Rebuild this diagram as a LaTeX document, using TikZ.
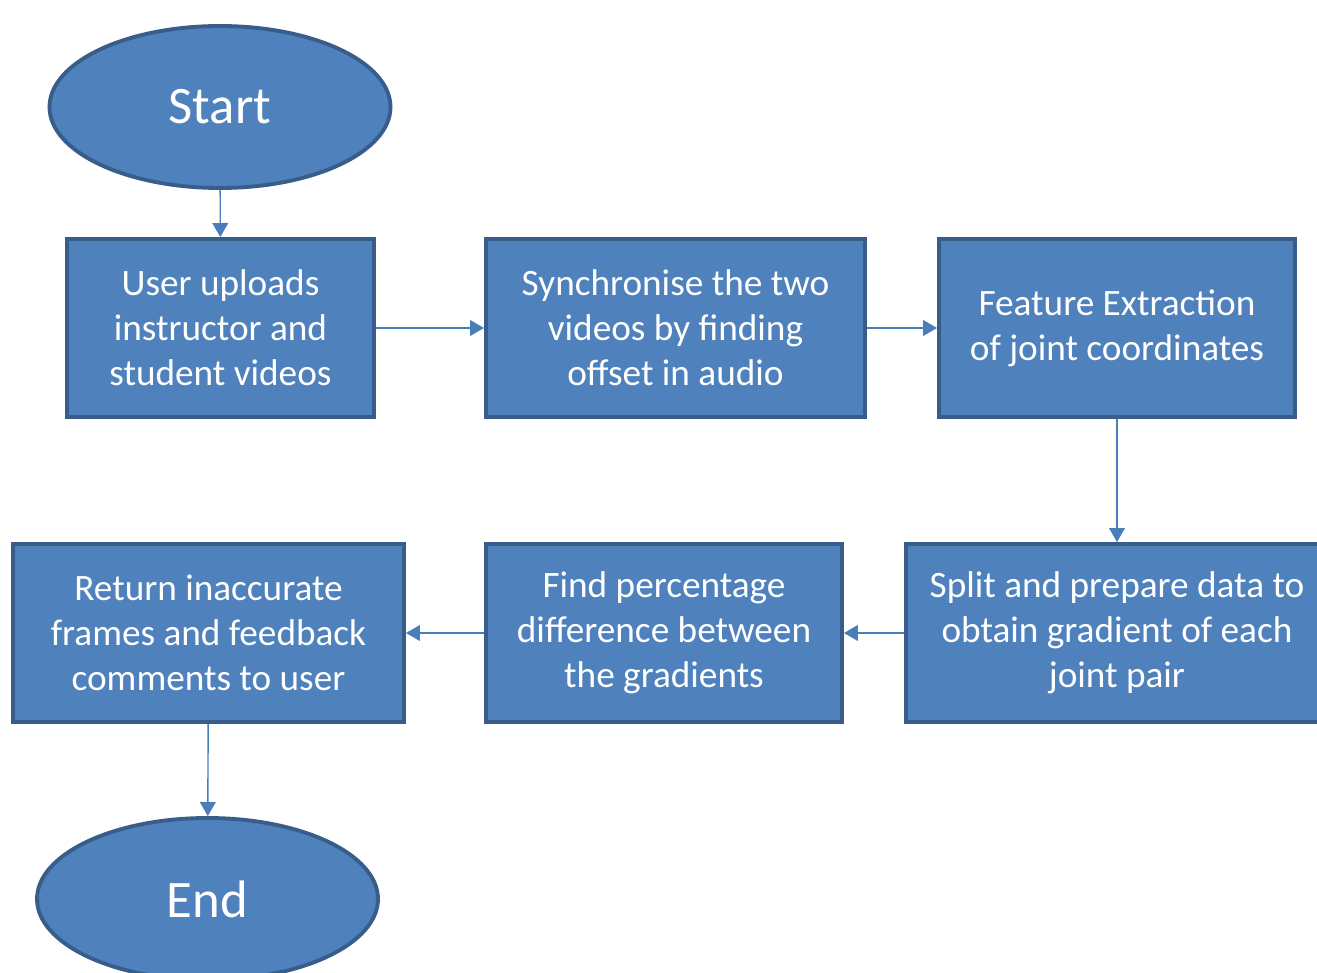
\documentclass[tikz,border=0pt]{standalone}
\usepackage{fontspec}
\setmainfont{Carlito}
\usetikzlibrary{arrows.meta,shapes.geometric}

\definecolor{boxblue}{HTML}{4F81BD}
\definecolor{boxedge}{HTML}{385D8A}
\definecolor{arrblue}{HTML}{4A7EBB}

\begin{document}
\begin{tikzpicture}[
    step box/.style={rectangle, draw=boxedge, fill=boxblue, line width=2.2pt,
      minimum height=3.56cm, text=white, align=center,
      font=\fontsize{21.2}{25.6}\selectfont},
    term/.style={ellipse, draw=boxedge, fill=boxblue, line width=2.2pt,
      minimum width=6.82cm, minimum height=3.24cm, text=white,
      font=\fontsize{30}{36}\selectfont},
    arr/.style={draw=arrblue, line width=0.8pt, -{Triangle[width=9pt,length=8pt]}}
  ]
    \clip (0,0) rectangle (26.34,-19.46);
    \useasboundingbox (0,0) rectangle (26.34,-19.46);

    % terminals
    \node[term] (start) at (4.40,-2.14) {Start};
    \node[term] (finish) at (4.15,-17.98) {End};

    % first row
    \node[step box, minimum width=6.14cm] (upload) at (4.41,-6.56)
      {User uploads\\instructor and\\student videos};
    \node[step box, minimum width=7.58cm] (sync) at (13.51,-6.56)
      {Synchronise the two\\videos by finding\\offset in audio};
    \node[step box, minimum width=7.12cm] (feat) at (22.34,-6.56)
      {Feature Extraction\\of joint coordinates};

    % second row
    \node[step box, minimum width=8.44cm] (split) at (22.34,-12.66)
      {Split and prepare data to\\obtain gradient of each\\joint pair};
    \node[step box, minimum width=7.12cm] (diff) at (13.28,-12.66)
      {Find percentage\\difference between\\the gradients};
    \node[step box, minimum width=7.82cm] (ret) at (4.17,-12.66)
      {Return inaccurate\\frames and feedback\\comments to user};

    % connectors
    \draw[arr] (start) -- (upload);
    \draw[arr] (upload) -- (sync);
    \draw[arr] (sync) -- (feat);
    \draw[arr] (feat) -- (split);
    \draw[arr] (split) -- (diff);
    \draw[arr] (diff) -- (ret);
    \draw[arr] (ret) -- (finish);

\end{tikzpicture}
\end{document}
